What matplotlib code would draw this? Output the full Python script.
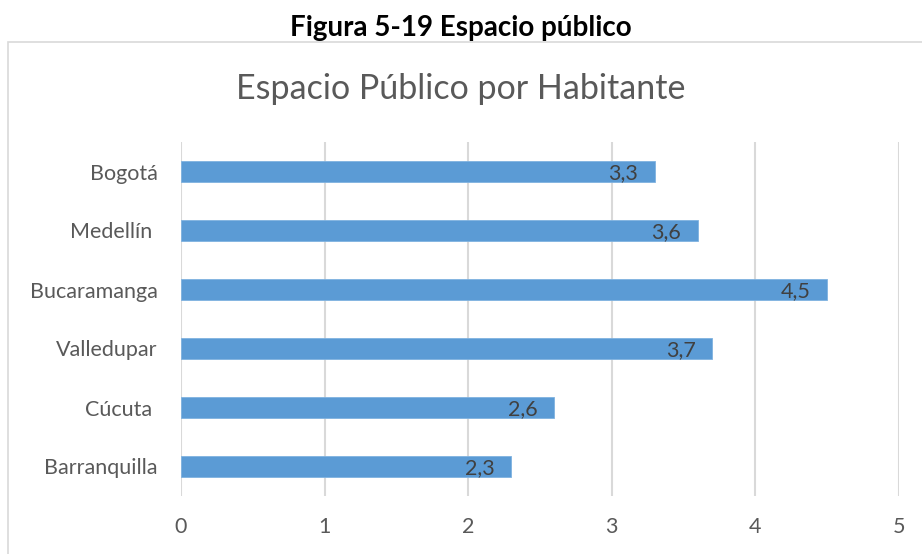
import matplotlib.pyplot as plt
from matplotlib.patches import Rectangle

# Datos
ciudades = ['Bogotá', 'Medellín ', 'Bucaramanga', 'Valledupar', 'Cúcuta ', 'Barranquilla']
valores = [3.3, 3.6, 4.5, 3.7, 2.6, 2.3]
etiquetas = ['3,3', '3,6', '4,5', '3,7', '2,6', '2,3']
ticks_x = [0, 1, 2, 3, 4, 5]

plt.rcParams['font.family'] = ['Lato', 'DejaVu Sans']

fig = plt.figure(figsize=(9.22, 5.54), dpi=100)
ax = fig.add_axes([181/922, 1 - 496/554, (899 - 181)/922, (496 - 142)/554])

# marco del grafico
fig.patches.append(Rectangle((8/922, -0.05), 1.2, 1 - 42/554 + 0.05, transform=fig.transFigure,
                             fill=False, ec='#D9D9D9', lw=1.2))

pos = list(range(len(ciudades)))[::-1]
ax.barh(pos, valores, height=0.35, color='#5B9BD5', edgecolor='#7FB2E0', lw=0.6, zorder=3)
for p, v, t in zip(pos, valores, etiquetas):
    ax.annotate(t, (v, p), xytext=(-12, -1), textcoords='offset points', ha='right', va='center',
                fontsize=15.5, color='#404040', zorder=4)

ax.set_xlim(0, 5)
ax.set_ylim(-0.5, 5.5)
ax.set_xticks(ticks_x)
ax.set_yticks(pos)
ax.set_yticklabels(ciudades)
ax.grid(axis='x', color='#D9D9D9', lw=1.5, zorder=0)
for s in ax.spines.values():
    s.set_visible(False)
ax.tick_params(length=0, labelsize=15.5, colors='#595959')
ax.tick_params(axis='x', pad=15)
ax.tick_params(axis='y', pad=17)

fig.text(0.5, 1 - 28/554, 'Figura 5-19 Espacio público', ha='center', va='center',
         fontsize=20, fontweight='bold', color='black')
fig.text(0.5, 1 - 89/554, 'Espacio Público por Habitante', ha='center', va='center',
         fontsize=24.5, color='#595959')

fig.savefig('out.png', dpi=100)
